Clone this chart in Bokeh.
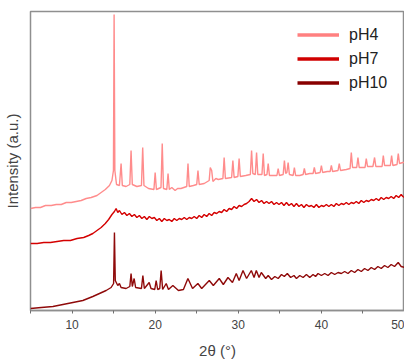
from bokeh.plotting import figure
from bokeh.models import Range1d, FixedTicker, Legend, LegendItem
from bokeh.embed import file_html
from bokeh.resources import INLINE

# ---- data (2theta in degrees, intensity in a.u.) ----
series_names = ["pH4", "pH7", "pH10"]
series_colors = ["#ff8080", "#d00000", "#880000"]
line_colors = ["#ff8c8c", "#d40000", "#8f0a0a"]

ph4_theta = [5.0, 5.6, 6.2, 6.8, 7.5, 8.1, 8.7, 9.3, 9.9, 10.5, 11.1, 11.7, 12.3, 13.0, 13.5,
             14.0, 14.5, 14.8, 14.98,
             15.06, 15.15, 15.35, 15.7, 15.9, 16.05, 16.5, 16.95, 17.1, 17.25, 17.8,
             18.35, 18.5, 18.65, 19.2, 19.85, 20.0, 20.15, 20.7, 20.85, 21.0, 21.4,
             21.55, 21.7, 22.0, 22.4, 22.7, 23.1, 23.8, 23.95, 24.1, 24.6, 25.0, 25.15, 25.3,
             25.9, 26.5, 26.63, 26.8, 26.95, 27.3, 27.6, 28.15, 28.3, 28.45, 29.2, 29.35,
             29.5, 29.95, 30.1, 30.25, 30.9, 31.45, 31.6, 31.75, 32.05, 32.2, 32.35,
             32.85, 33.0, 33.15, 33.45, 33.6, 33.75, 34.2, 34.65, 34.8, 34.95, 35.4,
             35.55, 35.7, 35.85, 36.0, 36.15, 36.6, 36.75, 36.9, 37.4, 37.8, 37.95,
             38.1, 38.6, 39.0, 39.15, 39.3, 39.85, 40.0, 40.15, 40.7, 41.05, 41.2,
             41.35, 42.0, 42.15, 42.3, 43.0, 43.45, 43.6, 43.75, 44.25, 44.4, 44.55,
             45.25, 45.4, 45.55, 46.2, 46.4, 46.55, 47.3, 47.45, 47.6, 48.3, 48.45,
             48.6, 49.1, 49.25, 49.4, 49.8, 50.0]
ph4_int = [102, 103, 103, 105, 105, 106, 106, 108, 108, 109, 110, 112, 113, 115, 118,
           121, 125, 130, 140,
           296, 140, 126, 125, 147, 125, 124, 126, 160, 126, 124,
           125, 163, 125, 122, 121, 138, 121, 123, 167, 122, 121,
           137, 121, 123, 120, 122, 122, 124, 147, 124, 125, 126, 140, 126,
           127, 130, 143, 140, 129, 132, 131, 132, 153, 132, 133, 150,
           133, 134, 152, 134, 135, 136, 160, 137, 136, 158, 136,
           136, 157, 135, 136, 147, 135, 135, 135, 142, 135, 136,
           150, 137, 138, 148, 136, 135, 143, 135, 135, 136, 142,
           136, 137, 137, 143, 137, 138, 145, 138, 139, 139, 145,
           139, 140, 147, 140, 141, 142, 158, 143, 143, 153, 143,
           143, 152, 144, 144, 153, 144, 144, 155, 145, 145, 155,
           145, 146, 157, 147, 148, 148]

ph7_theta = [5.0, 5.8, 6.6, 7.4, 8.2, 9.0, 9.8, 10.6, 11.4, 12.0, 12.5, 13.0, 13.5, 14.0,
             14.4, 14.8, 15.1, 15.3, 15.5, 15.7, 16.0, 16.3, 16.6, 16.9, 17.2, 17.5,
             17.8, 18.1, 18.4, 18.7, 19.0, 19.3, 19.6, 19.9, 20.2, 20.5, 20.8, 21.1,
             21.4, 21.7, 22.0, 22.3, 22.6, 22.9, 23.2, 23.5, 23.8, 24.1, 24.4, 24.7,
             25.0, 25.3, 25.6, 25.9, 26.2, 26.5, 26.8, 27.1, 27.4, 27.7, 28.0, 28.3,
             28.6, 28.9, 29.2, 29.5, 29.8, 30.1, 30.4, 30.7, 31.0, 31.3, 31.6, 31.9,
             32.2, 32.5, 32.8, 33.1, 33.4, 33.7, 34.0, 34.3, 34.6, 34.9, 35.2, 35.5,
             35.8, 36.1, 36.4, 36.7, 37.0, 37.3, 37.6, 37.9, 38.2, 38.5, 38.8, 39.1,
             39.4, 39.7, 40.0, 40.3, 40.6, 40.9, 41.2, 41.5, 41.8, 42.1, 42.4, 42.7,
             43.0, 43.3, 43.6, 43.9, 44.2, 44.5, 44.8, 45.1, 45.4, 45.7, 46.0, 46.3,
             46.6, 46.9, 47.2, 47.5, 47.8, 48.1, 48.4, 48.7, 49.0, 49.3, 49.6, 49.8, 50.0]
ph7_int = [67, 67, 68, 68, 69, 70, 70, 72, 73, 75, 77, 80, 83, 87,
           91, 96, 99, 102, 98, 100, 96, 98, 95, 97, 94, 96,
           93, 95, 92, 94, 91, 94, 92, 93, 90, 92, 89, 92,
           90, 91, 89, 92, 90, 92, 91, 93, 91, 93, 92, 94,
           92, 95, 93, 96, 94, 97, 95, 98, 97, 99, 98, 101,
           99, 102, 101, 104, 102, 105, 104, 106, 107, 109, 112, 109,
           111, 108, 110, 107, 109, 107, 109, 106, 108, 106, 108, 105,
           108, 105, 107, 104, 107, 104, 106, 103, 106, 104, 105, 103,
           106, 103, 105, 104, 106, 104, 106, 104, 107, 105, 107, 106,
           108, 106, 108, 107, 109, 107, 110, 108, 110, 109, 111, 110,
           112, 110, 113, 111, 113, 112, 114, 112, 115, 113, 116, 114, 113]

ph10_theta = [5.0, 6.3, 7.7, 8.9, 10.1, 11.3, 12.5, 13.3, 14.1, 14.7, 15.0, 15.1,
              15.2, 15.5, 15.7, 15.9, 16.5, 16.95, 17.1, 17.25, 17.47, 17.65, 18.35,
              18.52, 18.7, 19.28, 19.5, 19.95, 20.12, 20.3, 20.55, 20.72, 20.9, 21.33,
              21.6, 22.13, 22.8, 23.4, 23.94, 24.5, 25.14, 25.6, 26.51, 27.0, 27.71,
              28.2, 28.76, 29.3, 29.76, 30.1, 30.57, 31.0, 31.57, 31.9, 32.17, 32.5,
              32.77, 33.3, 33.6, 34.0, 34.4, 34.8, 35.2, 35.54, 35.9, 36.3, 36.7, 37.0,
              37.4, 37.8, 38.2, 38.6, 39.0, 39.3, 39.6, 40.0, 40.4, 40.8, 41.2, 41.6,
              42.0, 42.4, 42.8, 43.2, 43.6, 44.0, 44.4, 44.8, 45.2, 45.6, 46.0, 46.4,
              46.8, 47.2, 47.6, 48.0, 48.4, 48.8, 49.24, 49.6, 50.0]
ph10_int = [2, 3, 4, 6, 8, 10, 14, 17, 20, 23, 27, 78,
            30, 25, 27, 23, 22, 24, 37, 24, 32, 23, 22,
            35, 22, 28, 22, 21, 30, 21, 22, 40, 21, 27,
            21, 25, 20, 21, 32, 22, 27, 22, 30, 25, 32,
            26, 33, 28, 37, 30, 40, 32, 40, 33, 40, 33,
            38, 32, 35, 31, 34, 32, 36, 34, 37, 33, 35, 32,
            35, 33, 36, 33, 36, 34, 37, 35, 37, 35, 38, 36,
            38, 37, 39, 37, 40, 38, 41, 39, 42, 40, 43, 41,
            44, 42, 45, 43, 46, 44, 48, 44, 43]

x_ticks = [10, 20, 30, 40, 50]
x_minor_ticks = [5, 15, 25, 35, 45]

FONT = "Liberation Sans"

p = figure(width=404, height=361, output_backend="svg", toolbar_location=None,
           x_range=Range1d(5, 50), y_range=Range1d(0, 299),
           min_border_left=30, min_border_right=0, min_border_top=11, min_border_bottom=51)
p.xgrid.visible = False
p.ygrid.visible = False
p.outline_line_color = "#8f8f8f"
p.outline_line_width = 1.5
p.background_fill_color = "white"
p.border_fill_color = "white"

xa = p.xaxis[0]
xa.ticker = FixedTicker(ticks=x_ticks, minor_ticks=x_minor_ticks)
xa.axis_line_color = "#8f8f8f"
xa.axis_line_width = 1.5
xa.major_tick_line_color = "#707070"
xa.minor_tick_line_color = "#707070"
xa.major_tick_in = 0
xa.major_tick_out = 3
xa.minor_tick_in = 0
xa.minor_tick_out = 3
xa.major_label_standoff = 6
xa.major_label_text_font = FONT
xa.major_label_text_font_size = "12px"
xa.major_label_text_color = "#444444"
xa.axis_label = "2θ (°)"
xa.axis_label_text_font = FONT
xa.axis_label_text_font_size = "15px"
xa.axis_label_text_font_style = "normal"
xa.axis_label_text_color = "#444444"
xa.axis_label_standoff = 10

ya = p.yaxis[0]
ya.ticker = FixedTicker(ticks=[])
ya.axis_line_color = None
ya.major_tick_line_color = None
ya.minor_tick_line_color = None
ya.major_label_text_font_size = "0px"
ya.major_label_standoff = 0
ya.axis_label = "Intensity (a.u.)"
ya.axis_label_text_font = FONT
ya.axis_label_text_font_size = "15px"
ya.axis_label_text_font_style = "normal"
ya.axis_label_text_color = "#444444"
ya.axis_label_standoff = 10

all_theta = [ph4_theta, ph7_theta, ph10_theta]
all_int = [ph4_int, ph7_int, ph10_int]
for th, it, col in zip(all_theta, all_int, line_colors):
    p.line(x=th, y=it, line_color=col, line_width=1.4)

nan = float("nan")
items = []
for name, col in zip(series_names, series_colors):
    r = p.line(x=[nan, nan], y=[nan, nan], line_color=col, line_width=3.5)
    items.append(LegendItem(label=name, renderers=[r]))

legend = Legend(items=items, location=(267, 217), orientation="vertical")
legend.glyph_width = 42
legend.glyph_height = 21
legend.label_height = 21
legend.label_standoff = 10
legend.spacing = 3
legend.padding = 0
legend.margin = 0
legend.border_line_color = None
legend.background_fill_alpha = 0
legend.label_text_font = FONT
legend.label_text_font_size = "16px"
legend.label_text_color = "#222222"
p.add_layout(legend, "center")

open("out.html", "w").write(file_html(p, INLINE))
